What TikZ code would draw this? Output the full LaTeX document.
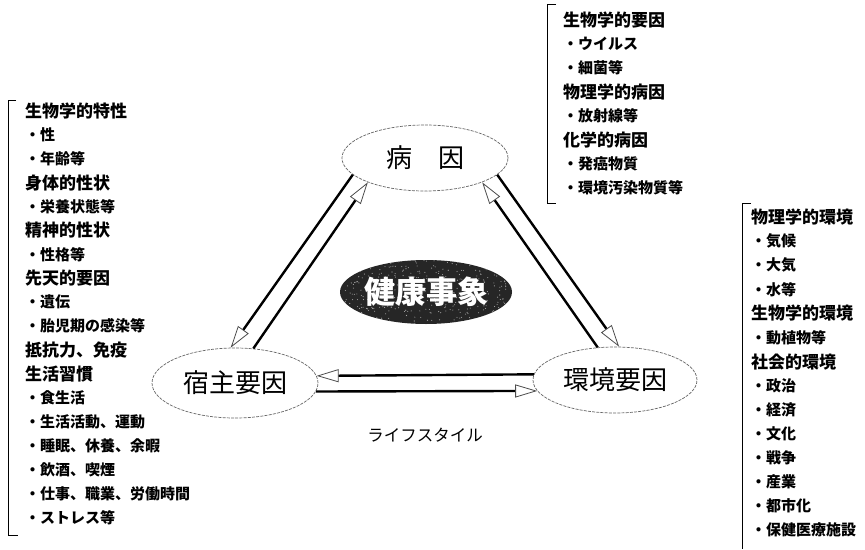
\documentclass[tikz,border=0pt]{standalone}
\usepackage{fontspec}
\setmainfont{Noto Sans CJK JP}
\usetikzlibrary{arrows.meta,shapes.geometric}
\begin{document}
\begin{tikzpicture}[x=1pt,y=-1pt,
  ell/.style={ellipse, draw=black!60, line width=0.7pt, dash pattern=on 3pt off 1.2pt, inner sep=0pt, font=\fontsize{26}{26}\selectfont},
  head/.style={anchor=west, inner sep=0pt, font=\bfseries\fontsize{17}{17}\selectfont},
  item/.style={anchor=west, inner sep=0pt, font=\bfseries\fontsize{15}{15}\selectfont},
  conn/.style={line width=2.4pt, -{Triangle[open,length=22pt,width=13pt,line width=0.8pt,color=black!70]}},
  brk/.style={line width=1pt}]
\fill[white] (0,0) rectangle (865,549);
\useasboundingbox (0,0) rectangle (865,549);

% ellipses
\node[ell, minimum width=166pt, minimum height=66pt] (byoin) at (425,158) {病　因};
\node[ell, minimum width=166pt, minimum height=70pt] (shukushu) at (235,383) {宿主要因};
\node[ell, minimum width=164pt, minimum height=66pt] (kankyo) at (615,380) {環境要因};
\node[ellipse, fill=black!85, inner sep=0pt, minimum width=172pt, minimum height=64pt] (kenkobg) at (426,292) {};
\begin{scope}
  \clip (426,292) ellipse (86pt and 32pt);
  \pgfmathsetseed{7}
  \foreach \k in {1,...,420}
    \fill[black!35] ({426+86*rand},{292+32*rand}) circle (0.55pt);
\end{scope}
\node[inner sep=0pt, text=white, font=\bfseries\fontsize{31}{31}\selectfont] (kenko) at (kenkobg.center) {健康事象};
\node[inner sep=0pt, font=\fontsize{16.5}{16.5}\selectfont] (life) at (425,435) {ライフスタイル};

% connectors
\draw[conn] (byoin.193) -- (shukushu.97);
\draw[conn] (shukushu.62) -- (byoin.203);
\draw[conn] (byoin.347) -- (kankyo.83);
\draw[conn] (kankyo.118) -- (byoin.337);
\draw[conn] (kankyo.176) -- (shukushu.5);
\draw[conn] (shukushu.354) -- (kankyo.188);

% brackets
\draw[brk] (16,100) -- (8,100) -- (8,535) -- (18,535);
\draw[brk] (556,4) -- (547,4) -- (547,203) -- (556,203);
\draw[brk] (751,203) -- (742,203) -- (742,549);

% left list
\foreach \s/\t [count=\i from 0] in {head/生物学的特性, item/・性, item/・年齢等, head/身体的性状, item/・栄養状態等, head/精神的性状, item/・性格等, head/先天的要因, item/・遺伝, item/・胎児期の感染等, head/抵抗力、免疫, head/生活習慣, item/・食生活, item/・生活活動、運動, item/・睡眠、休養、余暇, item/・飲酒、喫煙, item/・仕事、職業、労働時間, item/・ストレス等}
  \node[\s] (L\i) at (25,{111+23.9*\i}) {\t};

% top list
\foreach \s/\t [count=\i from 0] in {head/生物学的要因, item/・ウイルス, item/・細菌等, head/物理学的病因, item/・放射線等, head/化学的病因, item/・発癌物質, item/・環境汚染物質等}
  \node[\s] (T\i) at (563,{20+24*\i}) {\t};

% right list
\foreach \s/\t [count=\i from 0] in {head/物理学的環境, item/・気候, item/・大気, item/・水等, head/生物学的環境, item/・動植物等, head/社会的環境, item/・政治, item/・経済, item/・文化, item/・戦争, item/・産業, item/・都市化, item/・保健医療施設}
  \node[\s] (R\i) at (751,{217+24.1*\i}) {\t};
\end{tikzpicture}
\end{document}
